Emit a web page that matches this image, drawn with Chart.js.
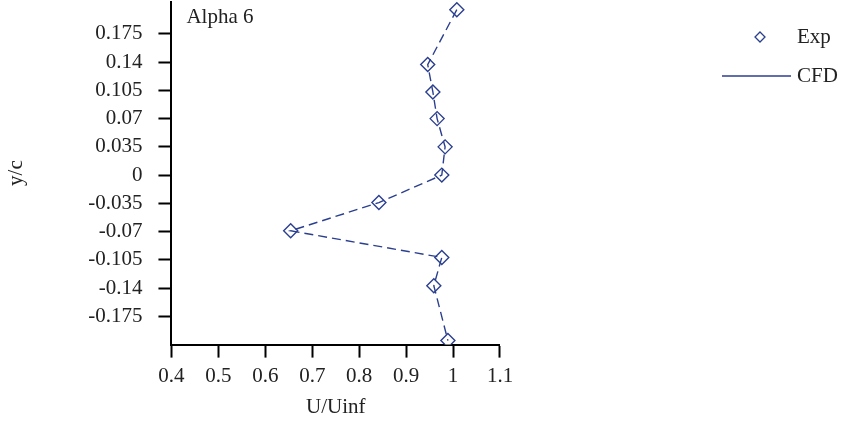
<!DOCTYPE html>
<html><head><meta charset="utf-8">
<script src="https://cdn.jsdelivr.net/npm/chart.js@4/dist/chart.umd.min.js"></script>
<style>html,body{margin:0;padding:0;background:#fff;overflow:hidden}#w{width:850px;height:455px;margin-top:-27px}</style>
</head><body><div id="w"><canvas id="c"></canvas></div>
<script>
const uValues = [1.008, 0.946, 0.957, 0.966, 0.983, 0.976, 0.842, 0.654, 0.976, 0.959, 0.989];
const ycValues = [0.205, 0.137, 0.103, 0.070, 0.035, 0.0, -0.034, -0.069, -0.102, -0.137, -0.205];
const yTicks = [-0.175, -0.14, -0.105, -0.07, -0.035, 0, 0.035, 0.07, 0.105, 0.14, 0.175];
const xTicks = [0.4, 0.5, 0.6, 0.7, 0.8, 0.9, 1, 1.1];
const color = '#2b3f8f';
const FONT = 'Liberation Serif';
const pts = uValues.map((u, i) => ({x: u, y: ycValues[i]}));
const OFF = 27;

const extras = {
  id: 'extras',
  afterDraw(chart) {
    const ctx = chart.ctx;
    ctx.save();
    ctx.fillStyle = '#222';
    ctx.font = '21px "' + FONT + '"';
    ctx.textBaseline = 'middle';
    ctx.fillText('Alpha 6', chart.chartArea.left + 15, OFF + 17);
    ctx.strokeStyle = color; ctx.lineWidth = 1.3;
    const cx = 760, cy = OFF + 37, s = 5;
    ctx.beginPath();
    ctx.moveTo(cx, cy - s); ctx.lineTo(cx + s, cy); ctx.lineTo(cx, cy + s); ctx.lineTo(cx - s, cy); ctx.closePath(); ctx.stroke();
    ctx.fillText('Exp', 797, OFF + 37);
    ctx.beginPath(); ctx.moveTo(722, OFF + 76); ctx.lineTo(791, OFF + 76); ctx.stroke();
    ctx.fillText('CFD', 797, OFF + 76);
    ctx.restore();
  }
};

const gridOpts = { display: true, drawOnChartArea: false, drawTicks: true, tickLength: 13, tickColor: '#000', tickWidth: 2 };

new Chart(document.getElementById('c'), {
  type: 'scatter',
  data: { datasets: [
    { label: 'CFD', data: pts, showLine: true, borderColor: color, borderWidth: 1.4, borderDash: [9, 5], pointRadius: 0, fill: false },
    { label: 'Exp', data: pts, showLine: false, pointStyle: 'rectRot', pointRadius: 7, pointBorderColor: color, pointBackgroundColor: '#fff', pointBorderWidth: 1.4 }
  ]},
  plugins: [extras],
  options: {
    responsive: true, maintainAspectRatio: false, animation: false,
    layout: { padding: { left: 0, right: 350, top: -15, bottom: 4 } },
    plugins: { legend: { display: false }, tooltip: { enabled: false } },
    scales: {
      x: { type: 'linear', min: 0.4, max: 1.1,
        afterBuildTicks: a => { a.ticks = xTicks.map(v => ({value: v})); },
        grid: gridOpts,
        border: { color: '#000', width: 2 },
        ticks: { color: '#222', font: { family: FONT, size: 21 }, padding: 6, callback: v => String(v) },
        title: { display: true, text: 'U/Uinf', color: '#222', font: { family: FONT, size: 21 }, padding: { top: 0 } } },
      y: { type: 'linear', min: -0.21, max: 0.215,
        afterBuildTicks: a => { a.ticks = yTicks.map(v => ({value: v})); },
        grid: gridOpts,
        border: { color: '#000', width: 2 },
        ticks: { color: '#222', font: { family: FONT, size: 21 }, padding: 16, callback: v => String(v) },
        title: { display: true, text: 'y/c', color: '#222', font: { family: FONT, size: 21 }, padding: { bottom: 43 } } }
    }
  }
});
</script></body></html>
